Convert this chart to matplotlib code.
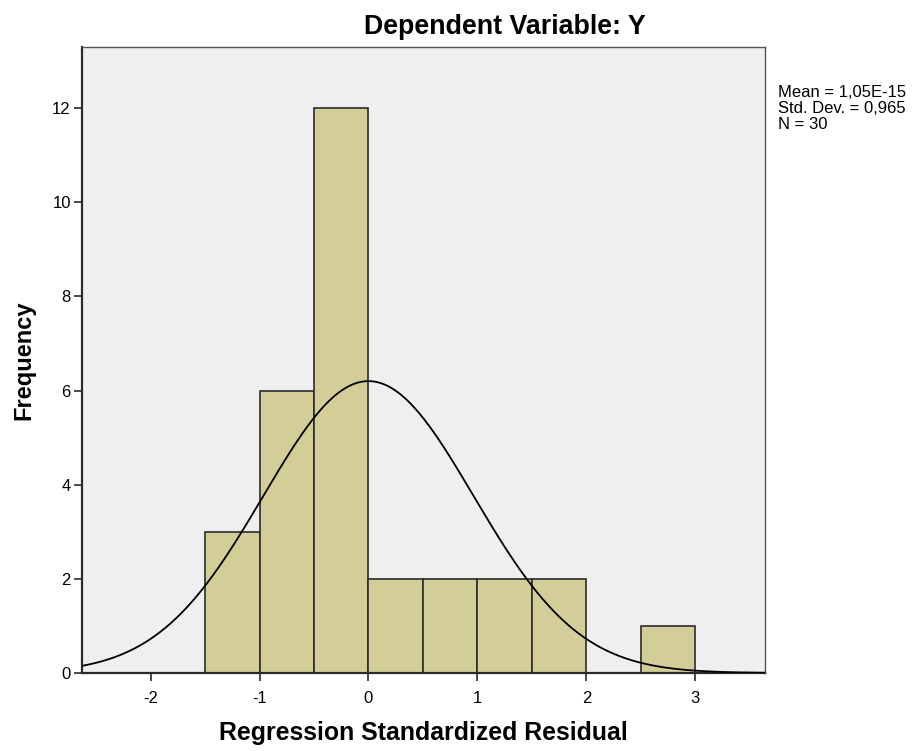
import numpy as np
import matplotlib.pyplot as plt

plt.rcParams["font.family"] = ["Liberation Sans", "DejaVu Sans"]

# residual histogram (bin width 0.5)
bin_left = [-1.5, -1.0, -0.5, 0.0, 0.5, 1.0, 1.5, 2.0, 2.5]
counts = [3, 6, 12, 2, 2, 2, 2, 0, 1]
bin_width = 0.5

mean_val = 1.05e-15
std_val = 0.965
n_obs = 30

x_ticks = [-2, -1, 0, 1, 2, 3]
y_ticks = [0, 2, 4, 6, 8, 10, 12]

fig = plt.figure(figsize=(9.17, 7.51), dpi=100)
ax = fig.add_axes([0.0894, 0.1039, 0.7448, 0.8335])
ax.set_facecolor("#efefef")

ax.bar(bin_left, counts, width=bin_width, align="edge",
       color="#d3ce98", edgecolor="#2b2b2b", linewidth=1.2, zorder=2)

# fitted normal curve, scaled to counts
xs = np.linspace(-2.63, 3.64, 400)
ys = n_obs * bin_width / (std_val * np.sqrt(2 * np.pi)) * np.exp(-0.5 * ((xs - mean_val) / std_val) ** 2)
ax.plot(xs, ys, color="black", linewidth=1.3, zorder=3)

ax.set_xlim(-2.63, 3.64)
ax.set_ylim(0, 13.3)
ax.set_xticks(x_ticks)
ax.set_xticklabels([str(t) for t in x_ticks])
ax.set_yticks(y_ticks)
ax.set_yticklabels([str(t) for t in y_ticks])
ax.tick_params(direction="out", length=6, width=1.2, labelsize=12, color="#2b2b2b", pad=2)
ax.tick_params(axis="x", pad=7)

for side in ["left", "bottom"]:
    ax.spines[side].set_linewidth(1.6)
    ax.spines[side].set_color("#2b2b2b")
for side in ["right", "top"]:
    ax.spines[side].set_linewidth(1.0)
    ax.spines[side].set_color("#555555")

# SPSS centres the title over the whole chart area, a bit right of the axes
fig.text(505 / 917, 1 - 27 / 751, "Dependent Variable: Y", fontsize=19.3,
         fontweight="bold", ha="center", va="center")
ax.set_xlabel("Regression Standardized Residual", fontsize=17.9, fontweight="bold", labelpad=11)
ax.set_ylabel("Frequency", fontsize=17, fontweight="bold", labelpad=12)

stats = f"Mean = 1,05E-15\nStd. Dev. = 0,965\nN = {n_obs}"
fig.text(778 / 917, 1 - 85 / 751, stats, fontsize=12, va="top", ha="left",
         linespacing=1.1)

fig.savefig("out.png", dpi=100)
